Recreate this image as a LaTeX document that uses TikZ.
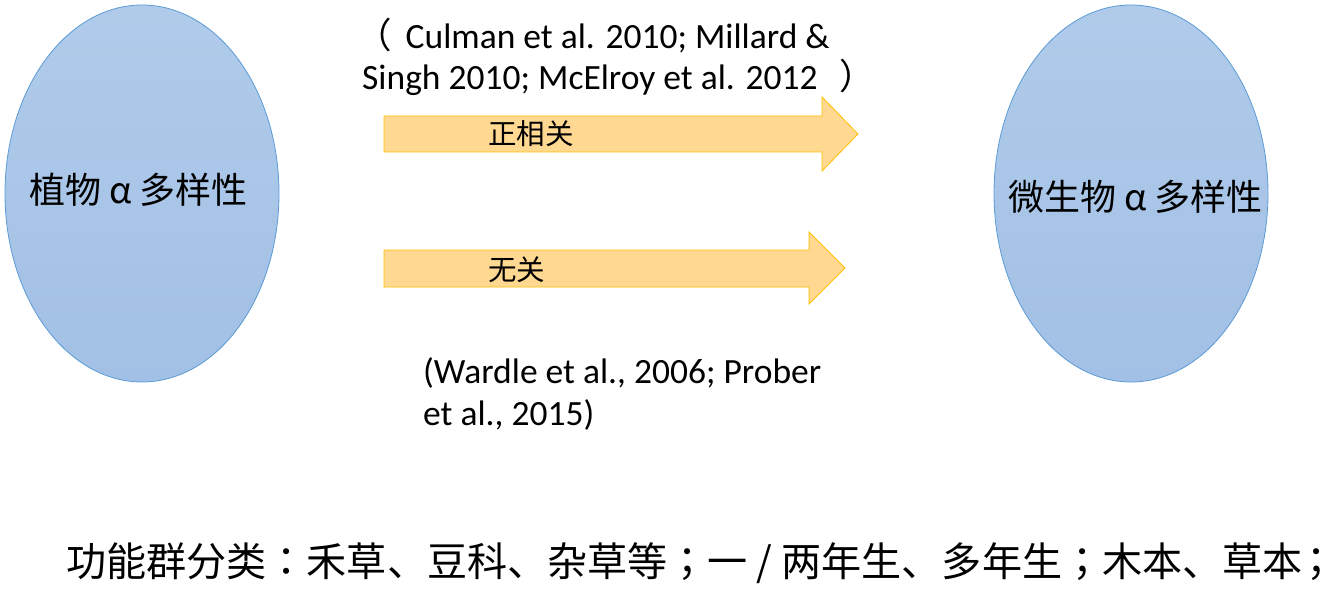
\documentclass[tikz,border=0pt]{standalone}
\usepackage{fontspec}
\setmainfont{Carlito}
\newfontfamily\cjk{Noto Sans CJK SC}
\newfontfamily\cjkp{Noto Sans CJK JP}
\usetikzlibrary{shapes.geometric}
\definecolor{elltop}{RGB}{176,203,234}
\definecolor{ellbot}{RGB}{162,192,229}
\definecolor{ellline}{RGB}{91,155,213}
\definecolor{arrfill}{RGB}{255,216,146}
\definecolor{arrline}{RGB}{255,192,0}
\newcommand{\cpunct}[1]{{\cjkp #1}}
\tikzset{
  bubble/.style={ellipse, draw=ellline, line width=0.8pt, top color=elltop, bottom color=ellbot,
    minimum width=274pt, minimum height=377pt, inner sep=0pt},
  bubtext/.style={font=\cjk\fontsize{36}{42}\selectfont, text=black},
  blockarrow/.style={draw=arrline, line width=0.8pt, fill=arrfill},
  arrlabel/.style={font=\cjk\fontsize{28.5}{32}\selectfont, anchor=west, inner sep=0pt},
  cite/.style={font=\fontsize{35.5}{42}\selectfont, anchor=base west, inner sep=0pt},
  bottomline/.style={font=\cjk\fontsize{40.1}{46}\selectfont, anchor=west, inner sep=0pt}
}
\begin{document}
\begin{tikzpicture}[x=1pt,y=-1pt]
\useasboundingbox (0,0) rectangle (1334,591);
\node[bubble] (plant) at (142,193.5) {};
\node[bubtext] (planttext) at (138.5,190) {植物 α 多样性};
\node[bubble] (micro) at (1131,193.5) {};
\node[bubtext] (microtext) at (1135.5,197) {微生物 α 多样性};
% arrow 1
\draw[blockarrow] (384,116) -- (822,116) -- (822,97) -- (858,134) -- (822,171) -- (822,152) -- (384,152) -- cycle;
\node[arrlabel] (pos) at (488,134) {正相关};
% arrow 2
\draw[blockarrow] (384,250) -- (809,250) -- (809,232) -- (845,268) -- (809,304) -- (809,287) -- (384,287) -- cycle;
\node[arrlabel] (none) at (488,270) {无关};
% citations
\node[cite] (cite1a) at (356,49) {{\cjk（}\hspace{14pt}Culman et al. 2010; Millard \&};
\node[cite] (cite1b) at (362,90) {Singh 2010; McElroy et al. 2012\hspace{22pt}{\cjk ）}};
\node[cite] (cite2a) at (423,383) {(Wardle et al., 2006; Prober};
\node[cite] (cite2b) at (423,425) {et al., 2015)};
\node[bottomline] (groups) at (66,563) {功能群分类\cpunct{：}禾草、豆科、杂草等\cpunct{；}一 / 两年生、多年生\cpunct{；}木本、草本\rlap{\kern-6pt\cpunct{；}}};
\end{tikzpicture}
\end{document}
